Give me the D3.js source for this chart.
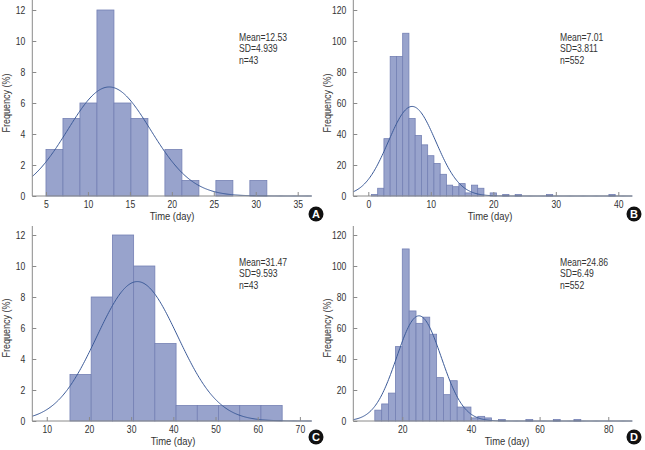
<!DOCTYPE html>
<html><head><meta charset="utf-8">
<script src="https://cdn.jsdelivr.net/npm/d3@7/dist/d3.min.js"></script>
<style>
body{margin:0;background:#fff;}
svg{display:block;}
text{font-family:"Liberation Sans Narrow","Arial Narrow","Liberation Sans",Arial,sans-serif;fill:#333;}
</style></head>
<body><svg id="c" width="645" height="450"></svg>
<script>
// Panel A
const aStart = 5, aWidth = 2.025;
const aCounts = [3,5,6,12,6,5,0,3,1,0,1,0,1];
const aStats = {mean:12.53, sd:4.939, n:43};
const aXTicks = [5,10,15,20,25,30,35];
const aYTicks = [0,2,4,6,8,10,12];
// Panel B
const bStart = 0.5, bWidth = 1;
const bCounts = [1,5,37,90,90,105,50,39,33,26,21,14,7,6,8,2,7,5,0,2,0,1,0,1,0,0,0,0,1,0,0,0,0,0,0,0,0,0,1];
const bStats = {mean:7.01, sd:3.811, n:552};
const bXTicks = [0,10,20,30,40];
const bYTicks = [0,20,40,60,80,100,120];
// Panel C
const cStart = 15.5, cWidth = 5.03;
const cCounts = [3,8,12,10,5,1,1,1,1,1];
const cStats = {mean:31.47, sd:9.593, n:43};
const cXTicks = [10,20,30,40,50,60,70];
const cYTicks = [0,2,4,6,8,10,12];
// Panel D
const dStart = 12, dWidth = 2;
const dCounts = [7,11,18,48,111,71,63,67,56,28,17,26,9,9,2,3,2,0,1,0,0,0,1,0,0,0,1,0,0,1];
const dStats = {mean:24.86, sd:6.49, n:552};
const dXTicks = [20,40,60,80];
const dYTicks = [0,20,40,60,80,100,120];

const panels = [
  {label:"A", start:aStart, w:aWidth, counts:aCounts, st:aStats, xt:aXTicks, yt:aYTicks,
   xd:[3.37,36.67], yd:[0,12], x0:32.3, x1:311.7, yb:196, yt12:10, top:0, cx:316, cy:214, sx:239, lx:172},
  {label:"B", start:bStart, w:bWidth, counts:bCounts, st:bStats, xt:bXTicks, yt:bYTicks,
   xd:[-2.4,42.24], yd:[0,120], x0:353.3, x1:632.3, yb:196, yt12:10, top:0, cx:634, cy:214, sx:560, lx:490},
  {label:"C", start:cStart, w:cWidth, counts:cCounts, st:cStats, xt:cXTicks, yt:cYTicks,
   xd:[6.57,72.8], yd:[0,12], x0:32.3, x1:311.7, yb:421, yt12:235, top:226, cx:316, cy:437, sx:239, lx:173},
  {label:"D", start:dStart, w:dWidth, counts:dCounts, st:dStats, xt:dXTicks, yt:dYTicks,
   xd:[5.73,87.0], yd:[0,120], x0:353.3, x1:632.3, yb:421, yt12:235, top:226, cx:634, cy:437, sx:560, lx:507}
];

const svg = d3.select("#c");
const barFill = "#98a3cc", barStroke = "#7480b4", curveCol = "#3b5a98", axisCol = "#8a8a8a";

panels.forEach(p => {
  const g = svg.append("g");
  const x = d3.scaleLinear().domain(p.xd).range([p.x0, p.x1]);
  const y = d3.scaleLinear().domain(p.yd).range([p.yb, p.yt12]);
  const bins = p.counts.map((c,i)=>({x0:p.start+i*p.w, x1:p.start+(i+1)*p.w, c}));
  g.selectAll("rect").data(bins.filter(b=>b.c>0)).join("rect")
    .attr("x", d=>x(d.x0)).attr("width", d=>x(d.x1)-x(d.x0))
    .attr("y", d=>y(d.c)).attr("height", d=>y(0)-y(d.c))
    .attr("fill", barFill).attr("stroke", barStroke).attr("stroke-width", 0.8);
  // normal curve
  const k = p.st.n * p.w / (p.st.sd*Math.sqrt(2*Math.PI));
  const pts = d3.range(p.xd[0], p.xd[1], (p.xd[1]-p.xd[0])/300).concat([p.xd[1]]);
  const line = d3.line().x(v=>x(v)).y(v=>y(k*Math.exp(-0.5*Math.pow((v-p.st.mean)/p.st.sd,2))));
  g.append("path").attr("d", line(pts)).attr("fill","none").attr("stroke",curveCol).attr("stroke-width",1);
  // axes
  const xa = d3.axisBottom(x).tickValues(p.xt).tickSize(-4).tickPadding(5).tickFormat(d3.format("d"));
  const xg = g.append("g").attr("transform",`translate(0,${p.yb})`).call(xa);
  xg.select(".domain").attr("d", `M${p.x0},0H${p.x1}`);
  const ya = d3.axisLeft(y).tickValues(p.yt).tickSize(-4).tickPadding(7).tickFormat(d3.format("d"));
  const yg = g.append("g").attr("transform",`translate(${p.x0},0)`).call(ya);
  yg.select(".domain").attr("d", `M0,${p.top}V${p.yb}`);
  [xg,yg].forEach(a=>{
    a.selectAll("path,line").attr("stroke",axisCol);
    a.selectAll("text").attr("font-size",10.5).attr("fill","#333").classed("cond",true)
      .style("font-family",'"Liberation Sans",Arial,sans-serif');
  });
  // axis titles
  g.append("text").attr("class","cond").attr("x",p.lx).attr("y",p.yb+24).attr("text-anchor","middle")
    .attr("font-size",11.5).text("Time (day)");
  g.append("text").attr("class","cond").attr("transform",`translate(${p.x0-22},${(p.yb+p.yt12)/2}) rotate(-90)`)
    .attr("text-anchor","middle").attr("font-size",11).text("Frequency (%)");
  // stats
  const lines = ["Mean=" + p.st.mean, "SD=" + p.st.sd, "n=" + p.st.n];
  lines.forEach((t,i)=>{
    g.append("text").attr("class","cond").attr("x",p.sx).attr("y",p.yt12+30.5+i*11.5)
      .attr("font-size",10.5).text(t);
  });
  // panel label
  g.append("circle").attr("cx",p.cx).attr("cy",p.cy).attr("r",7.5).attr("fill","#111");
  g.append("text").attr("x",p.cx).attr("y",p.cy+4).attr("text-anchor","middle")
    .attr("font-size",11).attr("font-weight","bold").style("fill","#fff")
    .style("font-family",'"Liberation Sans",Arial,sans-serif').text(p.label);
});
// condense text horizontally (reference uses a condensed face)
svg.selectAll("text.cond").each(function(){
  const L = this.getComputedTextLength();
  if (L > 0) d3.select(this).attr("textLength", (L*0.82).toFixed(2)).attr("lengthAdjust","spacingAndGlyphs");
});
</script></body></html>
